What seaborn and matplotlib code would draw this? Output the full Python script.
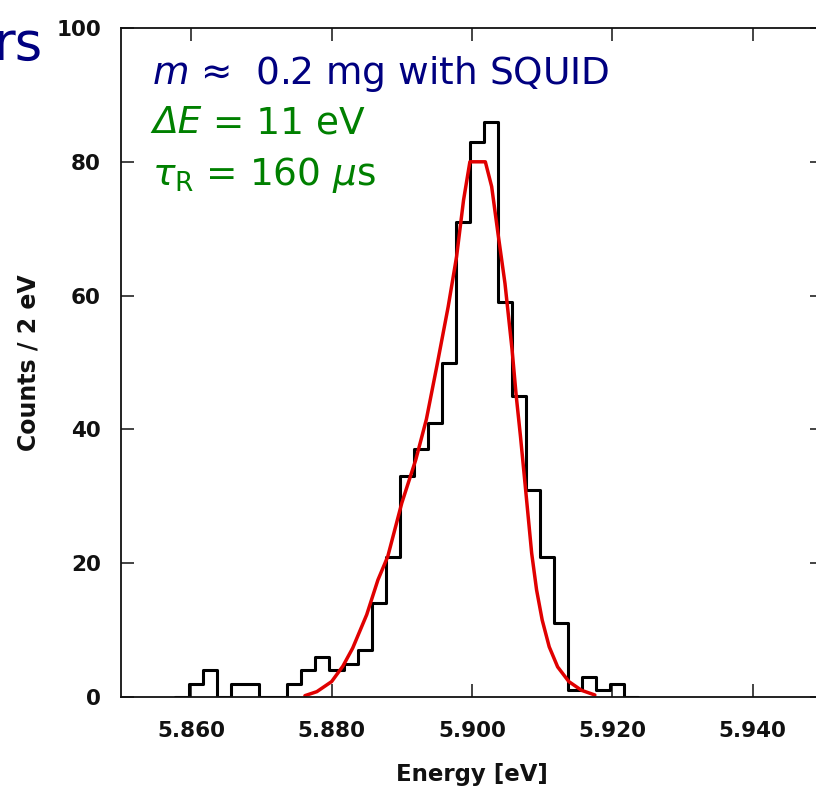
import numpy as np
import pandas as pd
import matplotlib
matplotlib.use("Agg")
import matplotlib.pyplot as plt
import seaborn as sns

# ---- data ----
bin_start = 5.8597          # first bin edge (axis units)
bin_width = 0.002           # 2 eV bins
counts = [2, 4, 0, 2, 2, 0, 0, 2, 4, 6, 4, 5, 7, 14, 21, 33, 37, 41, 50,
          71, 83, 86, 59, 45, 31, 21, 11, 1, 3, 1, 2]

fit_x = [5.8762, 5.8779, 5.8800, 5.8816, 5.8830, 5.8850, 5.8866, 5.8880,
         5.8900, 5.8920, 5.8935, 5.8950, 5.8966, 5.8978, 5.8988, 5.8997,
         5.9019, 5.9028, 5.9037, 5.9047, 5.9057, 5.9063, 5.9069, 5.9075,
         5.9080, 5.9085, 5.9092, 5.9100, 5.9110, 5.9122, 5.9138, 5.9156,
         5.9175]
fit_y = [0.2, 0.8, 2.3, 4.6, 7.3, 12.3, 17.5, 21.0,
         29.0, 35.5, 41.5, 49.5, 58.3, 65.8, 74.3, 80.0,
         80.0, 76.3, 69.3, 61.8, 52.0, 45.0, 39.0, 32.5,
         27.0, 21.5, 16.0, 11.5, 7.5, 4.5, 2.3, 1.0,
         0.3]

x_ticks = [5.860, 5.880, 5.900, 5.920, 5.940]
x_tick_labels = ["5.860", "5.880", "5.900", "5.920", "5.940"]
y_ticks = [0, 20, 40, 60, 80, 100]

# ---- figure ----
sns.set_theme(style="ticks")
plt.rcParams["font.family"] = ["DejaVu Sans"]
plt.rcParams["mathtext.fontset"] = "dejavusans"

fig = plt.figure(figsize=(8.16, 7.89), dpi=100)
ax = fig.add_axes([121 / 816, 92 / 789, (823 - 121) / 816, (697 - 28) / 789])

# pad with empty bins so the outline closes to the baseline
padded = [0] + counts + [0]
edges = [bin_start - bin_width + bin_width * i for i in range(len(padded) + 1)]
centers = [(edges[i] + edges[i + 1]) / 2 for i in range(len(padded))]
hist_df = pd.DataFrame({"energy": centers, "n": padded})

sns.histplot(data=hist_df, x="energy", weights="n", bins=edges,
             element="step", fill=False, color="black", linewidth=2.2, ax=ax)

fit_df = pd.DataFrame({"energy": fit_x, "fit": fit_y})
sns.lineplot(data=fit_df, x="energy", y="fit", color="#e00000",
             linewidth=2.5, ax=ax)

ax.set_xlim(5.850, 5.950)
ax.set_ylim(0, 100)
ax.set_xticks(x_ticks)
ax.set_xticklabels(x_tick_labels)
ax.set_yticks(y_ticks)

ax.tick_params(direction="in", length=9.5, width=1.1, top=True, right=True,
               labelsize=15.5, colors="#111111")
ax.tick_params(axis="x", pad=17)
ax.tick_params(axis="y", pad=14.5)
for lab in ax.get_xticklabels() + ax.get_yticklabels():
    lab.set_fontweight("bold")
for sp in ax.spines.values():
    sp.set_linewidth(1.3)
    sp.set_color("#111111")

ax.set_xlabel("Energy [eV]", fontsize=16.5, fontweight="bold", labelpad=16,
              color="#111111")
ax.set_ylabel("Counts / 2 eV", fontsize=17, fontweight="bold", labelpad=11,
              color="#111111")

navy = "#000080"
green = "#008000"
ax.text(5.8544, 91.6, r"$m$ ≈  0.2 mg with SQUID", color=navy,
        fontsize=27, va="baseline", ha="left")
t2 = ax.text(5.8544, 84.3, "ΔE", color=green, fontstyle="italic",
             fontsize=27, va="baseline", ha="left")
ax.annotate(" = 11 eV", xy=(1, 0), xycoords=t2, color=green, fontsize=27,
            va="bottom", ha="left")
ax.text(5.8544, 76.6, r"$\tau_\mathrm{R}$ = 160 $\mu$s", color=green,
        fontsize=27, va="baseline", ha="left")

fig.text(42 / 816, 1 - 60 / 789, "rs", color=navy, fontsize=38,
         ha="right", va="baseline")

fig.savefig("out.png", dpi=100)
